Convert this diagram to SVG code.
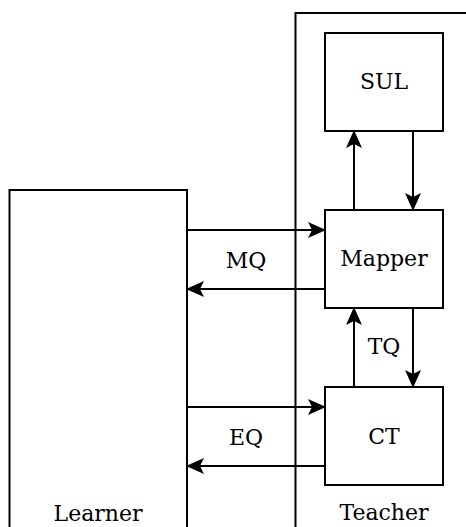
<svg xmlns="http://www.w3.org/2000/svg" width="466" height="527" viewBox="0 0 466 527">
<style>
.box{fill:#fff;stroke:#000;stroke-width:2}
.c{stroke:#000;stroke-width:2;fill:none}
text{font-family:"DejaVu Serif","Liberation Serif",serif;font-size:22px;fill:#000;text-anchor:middle}
</style>
<defs>
<marker id="ah" viewBox="0 0 18 16" refX="17" refY="8" markerWidth="18" markerHeight="16" markerUnits="userSpaceOnUse" orient="auto">
<path d="M0,0 L18,8 L0,16 L4,8 Z" fill="#000"/>
</marker>
</defs>
<rect width="466" height="527" fill="#fff"/>
<g id="learner"><rect class="box" x="9.5" y="190" width="177.5" height="345"/><text x="98" y="521">Learner</text></g>
<g id="teacher"><rect class="box" x="295.5" y="13" width="180" height="530"/><text x="384" y="520">Teacher</text></g>
<g id="sul"><rect class="box" x="325" y="33" width="118" height="98"/><text x="384" y="89">SUL</text></g>
<g id="mapper"><rect class="box" x="325" y="210" width="118" height="98"/><text x="384" y="266">Mapper</text></g>
<g id="ct"><rect class="box" x="325" y="387" width="118" height="98"/><text x="384" y="444">CT</text></g>
<g id="connectors">
<line class="c" x1="187" y1="230" x2="325" y2="230" marker-end="url(#ah)"/>
<line class="c" x1="325" y1="289" x2="187" y2="289" marker-end="url(#ah)"/>
<line class="c" x1="354" y1="210" x2="354" y2="131" marker-end="url(#ah)"/>
<line class="c" x1="413" y1="131" x2="413" y2="210" marker-end="url(#ah)"/>
<line class="c" x1="354" y1="387" x2="354" y2="308" marker-end="url(#ah)"/>
<line class="c" x1="413" y1="308" x2="413" y2="387" marker-end="url(#ah)"/>
<line class="c" x1="187" y1="407" x2="325" y2="407" marker-end="url(#ah)"/>
<line class="c" x1="325" y1="466" x2="187" y2="466" marker-end="url(#ah)"/>
<text x="246" y="268">MQ</text>
<text x="384" y="354">TQ</text>
<text x="246" y="445">EQ</text>
</g>
</svg>
